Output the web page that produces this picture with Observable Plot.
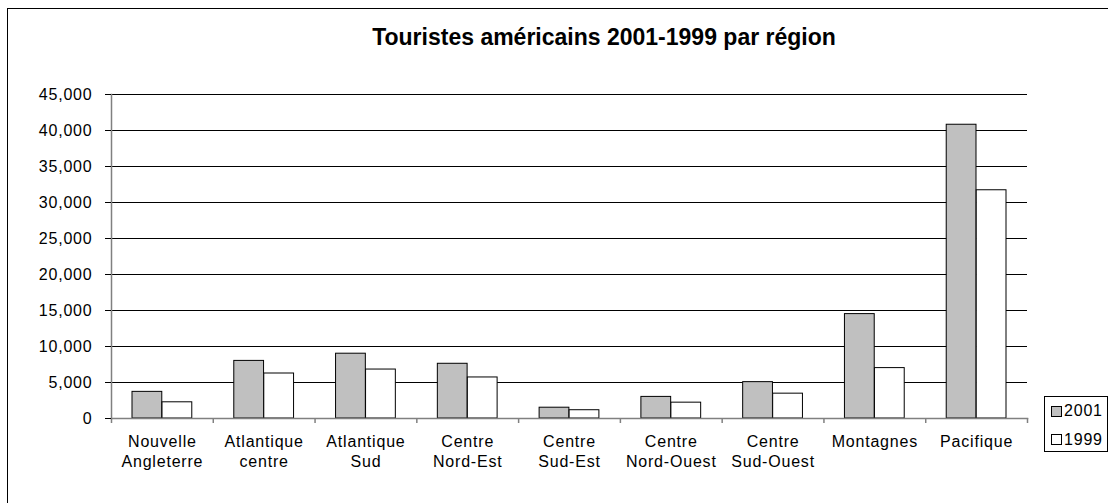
<!DOCTYPE html>
<html><head><meta charset="utf-8">
<script src="https://cdn.jsdelivr.net/npm/d3@7"></script>
<script src="https://cdn.jsdelivr.net/npm/@observablehq/plot@0.6"></script>
<style>
body{margin:0;background:#fff;}
#wrap{position:relative;width:1108px;height:503px;overflow:hidden;font-family:"Liberation Sans",Arial,sans-serif;color:#000;}
#border{position:absolute;left:7px;top:8px;width:1300px;height:700px;border-left:1px solid #000;border-top:1px solid #000;pointer-events:none;}
#title{position:absolute;left:304px;width:600px;top:26px;text-align:center;font-weight:bold;font-size:23px;line-height:23px;white-space:nowrap;}
#chart{position:absolute;left:0;top:0;}
#legend{position:absolute;left:1044px;top:396px;width:64px;height:56px;box-sizing:border-box;border:1px solid #000;background:#fff;font-size:16px;letter-spacing:0.8px;}
.row{position:absolute;left:6px;height:18px;display:flex;align-items:center;}
.sw{width:11px;height:11px;border:1px solid #000;box-sizing:border-box;margin-right:2px;}
</style>
</head><body>
<div id="wrap">
  <div id="chart"></div>
  <div id="border"></div>
  <div id="title"></div>
  <div id="legend"></div>
</div>
<script>
const title = "Touristes américains 2001-1999 par région";
const regions = ["Nouvelle Angleterre","Atlantique centre","Atlantique Sud","Centre Nord-Est","Centre Sud-Est","Centre Nord-Ouest","Centre Sud-Ouest","Montagnes","Pacifique"];
const regionLabels = ["Nouvelle\nAngleterre","Atlantique\ncentre","Atlantique\nSud","Centre\nNord-Est","Centre\nSud-Est","Centre\nNord-Ouest","Centre\nSud-Ouest","Montagnes","Pacifique"];
const series = ["2001","1999"];
const values2001 = [3700, 8000, 9000, 7600, 1500, 3000, 5050, 14500, 40800];
const values1999 = [2250, 6250, 6800, 5700, 1150, 2200, 3450, 7000, 31700];
const yTicks = [0,5000,10000,15000,20000,25000,30000,35000,40000,45000];
const colors = {"2001":"#c0c0c0","1999":"#ffffff"};

const data2001 = regions.map((r,i)=>({region:r, year:"2001", value:values2001[i]}));
const data1999 = regions.map((r,i)=>({region:r, year:"1999", value:values1999[i]}));

const W = 1108, H = 503, mL = 111, mR = 81, mT = 94, mB = 85;
const step = (W - mL - mR) / regions.length;
const plotH = H - mT - mB;

const chart = Plot.plot({
  width: W, height: H,
  marginLeft: mL, marginRight: mR, marginTop: mT, marginBottom: mB,
  style: {fontFamily: '"Liberation Sans", Arial, sans-serif', fontSize: "16px", letterSpacing: "0.8px", color: "#000", background: "transparent", overflow: "visible"},
  x: {type: "band", domain: regions, padding: 0, round: false, axis: null, label: null},
  y: {domain: [0, 45000], axis: null, label: null},
  marks: [
    Plot.ruleY(yTicks.filter(d => d > 0), {stroke: "#000", strokeWidth: 1}),
    Plot.barY(data2001, {x: "region", y: "value", fill: colors["2001"], stroke: "#000", strokeWidth: 1, insetLeft: 21, insetRight: 51}),
    Plot.barY(data1999, {x: "region", y: "value", fill: colors["1999"], stroke: "#000", strokeWidth: 1, insetLeft: 51, insetRight: 21}),
    Plot.frame({anchor: "left", stroke: "#808080", strokeWidth: 1.5}),
    Plot.frame({anchor: "bottom", stroke: "#808080", strokeWidth: 1.5}),
    Plot.ruleX(regions, {x: d => d, dx: -step/2, stroke: "#808080", strokeWidth: 1.5, insetTop: plotH, insetBottom: -5}),
    Plot.ruleX(regions.slice(-1), {x: d => d, dx: step/2, stroke: "#808080", strokeWidth: 1.5, insetTop: plotH, insetBottom: -5}),
    Plot.axisY({ticks: yTicks, tickSize: 6, tickPadding: 13, tickFormat: d3.format(","), stroke: "#000", fill: "#000", label: null}),
    Plot.axisX({tickSize: 0, tickPadding: 14, tickFormat: d => regionLabels[regions.indexOf(d)], lineHeight: 1.25, fill: "#000", label: null})
  ]
});
document.getElementById("chart").appendChild(chart);
document.getElementById("title").textContent = title;

const legend = document.getElementById("legend");
series.forEach((s, i) => {
  const row = document.createElement("div");
  row.className = "row";
  row.style.top = (5 + i * 28.5) + "px";
  const sw = document.createElement("div");
  sw.className = "sw";
  sw.style.background = colors[s];
  const t = document.createElement("span");
  t.textContent = s;
  row.appendChild(sw); row.appendChild(t);
  legend.appendChild(row);
});
</script>
</body></html>
